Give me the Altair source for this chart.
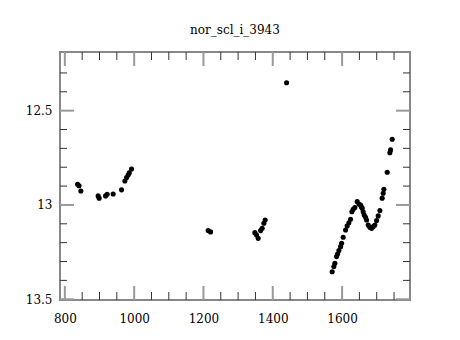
import altair as alt
import pandas as pd

title = "nor_scl_i_3943"

xs = [836.7, 841.0, 846.2, 896.1, 899.0, 917.5, 922.1, 939.4, 963.6, 973.2, 978.1, 982.7, 986.0, 992.5,
      1213.6, 1220.5,
      1348.3, 1353.2, 1357.9, 1364.8, 1369.4, 1374.3, 1378.1,
      1439.8,
      1571.4, 1576.3, 1579.2, 1584.1, 1587.0, 1590.8, 1595.7, 1598.6, 1603.2, 1610.1, 1614.7, 1619.6,
      1624.5, 1628.3, 1632.0, 1636.9, 1643.6, 1648.5, 1653.4, 1655.5, 1658.0, 1660.9, 1663.8, 1667.8,
      1670.7, 1675.3, 1680.2, 1685.1, 1689.8, 1694.7, 1699.6, 1704.2, 1709.1, 1715.7, 1718.6, 1720.6,
      1730.2, 1737.9, 1740.0, 1744.6]
ys = [12.890, 12.898, 12.926, 12.952, 12.964, 12.952, 12.943, 12.942, 12.920, 12.873, 12.855, 12.841, 12.830, 12.809,
      13.136, 13.143,
      13.147, 13.159, 13.177, 13.136, 13.124, 13.097, 13.080,
      12.352,
      13.354, 13.327, 13.309, 13.274, 13.260, 13.242, 13.221, 13.203, 13.171, 13.133, 13.111, 13.094,
      13.076, 13.036, 13.023, 13.014, 12.982, 12.995, 13.000, 13.010, 13.017, 13.036, 13.053, 13.065,
      13.080, 13.106, 13.118, 13.124, 13.115, 13.106, 13.083, 13.058, 13.030, 12.964, 12.938, 12.917,
      12.827, 12.723, 12.708, 12.652]

x_major = [800, 1000, 1200, 1400, 1600]
x_minor = [850, 900, 950, 1050, 1100, 1150, 1250, 1300, 1350, 1450, 1500, 1550, 1650, 1700, 1750]
y_major = [12.5, 13.0, 13.5]
y_minor = [12.3, 12.4, 12.6, 12.7, 12.8, 12.9, 13.1, 13.2, 13.3, 13.4]

W, H = 350, 248
FONT = "DejaVu Serif"

xscale = alt.Scale(domain=[786, 1796], nice=False, zero=False)
yscale = alt.Scale(domain=[12.189, 13.504], nice=False, zero=False, reverse=True)

pts = pd.DataFrame({"x": xs, "y": ys})

points = alt.Chart(pts).mark_circle(size=26, color="black", opacity=1).encode(
    x=alt.X("x:Q", scale=xscale,
            axis=alt.Axis(values=x_major, ticks=False, domain=False, grid=False, title=None,
                          labelFont=FONT, labelFontSize=12, labelColor="black", labelPadding=13,
                          format="d")),
    y=alt.Y("y:Q", scale=yscale,
            axis=alt.Axis(values=y_major, ticks=False, domain=False, grid=False, title=None,
                          labelFont=FONT, labelFontSize=12, labelColor="black", labelPadding=8,
                          labelExpr="datum.value == 13 ? '13' : format(datum.value, '.1f')")),
)

def xticks(vals, length, color, sw):
    d = pd.DataFrame({"v": vals})
    top = alt.Chart(d).mark_rule(color=color, strokeWidth=sw).encode(
        x=alt.X("v:Q", scale=xscale), y=alt.value(0), y2=alt.value(length))
    bot = alt.Chart(d).mark_rule(color=color, strokeWidth=sw).encode(
        x=alt.X("v:Q", scale=xscale), y=alt.value(H), y2=alt.value(H - length))
    return [top, bot]

def yticks(vals, length, color, sw):
    d = pd.DataFrame({"v": vals})
    left = alt.Chart(d).mark_rule(color=color, strokeWidth=sw).encode(
        y=alt.Y("v:Q", scale=yscale), x=alt.value(0), x2=alt.value(length))
    right = alt.Chart(d).mark_rule(color=color, strokeWidth=sw).encode(
        y=alt.Y("v:Q", scale=yscale), x=alt.value(W), x2=alt.value(W - length))
    return [left, right]

layers = (xticks(x_minor, 8, "#333333", 1) + xticks(x_major, 14, "#999999", 2)
          + yticks(y_minor, 7, "#333333", 1) + yticks(y_major, 14, "#999999", 2) + [points])

chart = alt.layer(*layers).properties(
    width=W, height=H,
    title=alt.TitleParams(title, font=FONT, fontSize=12, fontWeight="normal", color="black",
                          anchor="middle", offset=14),
    autosize=alt.AutoSizeParams(type="none"),
    padding={"left": 52, "top": 44, "right": 42, "bottom": 32},
).configure_view(stroke="#888888", strokeWidth=2)

chart.save("out.html", embed_options={"renderer": "svg", "actions": False})
